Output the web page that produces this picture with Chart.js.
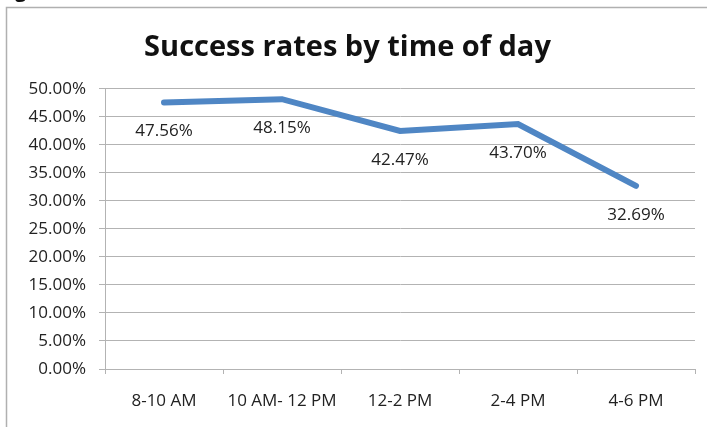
<!DOCTYPE html>
<html>
<head>
<meta charset="utf-8">
<script src="https://cdn.jsdelivr.net/npm/chart.js@4/dist/chart.umd.min.js"></script>
<style>
  html, body { margin: 0; padding: 0; background: #ffffff; }
  #wrap { width: 707px; height: 427px; position: relative; }
</style>
</head>
<body>
<div id="wrap"><canvas id="c" width="707" height="427"></canvas></div>
<script>
const chartTitle = 'Success rates by time of day';
const categories = ['8-10 AM', '10 AM- 12 PM', '12-2 PM', '2-4 PM', '4-6 PM'];
const successRates = [0.4756, 0.4815, 0.4247, 0.4370, 0.3269];
const yTickValues = [0, 0.05, 0.10, 0.15, 0.20, 0.25, 0.30, 0.35, 0.40, 0.45, 0.50];

const FONT = "'Open Sans', 'Liberation Sans', sans-serif";
const GRID = '#b3b3b3';
const LINE = '#4f86c4';

const fmtPct = v => (v * 100).toFixed(2) + '%';

const frameAndLabels = {
  id: 'frameAndLabels',
  beforeDraw(chart) {
    const ctx = chart.ctx;
    ctx.save();
    // outer frame (partially visible)
    ctx.strokeStyle = '#b0b0b0';
    ctx.lineWidth = 1.5;
    ctx.beginPath();
    ctx.moveTo(6.5, 427);
    ctx.lineTo(6.5, 7.5);
    ctx.lineTo(707, 7.5);
    ctx.stroke();
    // cut-off glyph above frame
    ctx.fillStyle = '#111';
    ctx.font = "bold 20px " + FONT;
    ctx.textBaseline = 'alphabetic';
    ctx.textAlign = 'left';
    ctx.fillText('g', 15, -3);
    ctx.restore();
  },
  afterDatasetsDraw(chart) {
    const ctx = chart.ctx;
    const meta = chart.getDatasetMeta(0);
    ctx.save();
    ctx.fillStyle = '#222';
    ctx.font = "17px " + FONT;
    ctx.textAlign = 'center';
    ctx.textBaseline = 'middle';
    meta.data.forEach((pt, i) => {
      ctx.fillText(fmtPct(chart.data.datasets[0].data[i]), pt.x, pt.y + 29);
    });
    ctx.restore();
  }
};

new Chart(document.getElementById('c'), {
  type: 'line',
  data: {
    labels: categories,
    datasets: [{
      data: successRates,
      borderColor: LINE,
      borderWidth: 6,
      borderCapStyle: 'round',
      borderJoinStyle: 'miter',
      tension: 0,
      pointRadius: 0,
      pointHoverRadius: 0,
      fill: false
    }]
  },
  options: {
    responsive: false,
    devicePixelRatio: 1,
    animation: false,
    events: [],
    layout: { padding: { left: 0, right: 12, top: 0, bottom: 0 } },
    plugins: {
      legend: { display: false },
      tooltip: { enabled: false },
      title: {
        display: true,
        text: chartTitle,
        color: '#111',
        font: { family: FONT, size: 29, weight: 'bold', lineHeight: 1.2 },
        padding: { top: 30, bottom: 24 }
      }
    },
    scales: {
      x: {
        type: 'category',
        offset: true,
        grid: {
          offset: true,
          drawOnChartArea: false,
          drawTicks: true,
          tickLength: 5,
          color: GRID
        },
        border: { display: true, color: GRID, width: 1 },
        ticks: {
          color: '#222',
          font: { family: FONT, size: 17 },
          padding: 17,
          maxRotation: 0,
          autoSkip: false
        },
        afterFit(scale) { scale.height = 58; }
      },
      y: {
        min: 0,
        max: 0.5,
        afterBuildTicks(scale) { scale.ticks = yTickValues.map(v => ({ value: v })); },
        grid: {
          color: GRID,
          drawTicks: true,
          tickLength: 6
        },
        border: { display: true, color: GRID, width: 1 },
        ticks: {
          color: '#222',
          font: { family: FONT, size: 17 },
          padding: 13,
          callback: v => fmtPct(v)
        },
        afterFit(scale) { scale.width = 105; }
      }
    }
  },
  plugins: [frameAndLabels]
});
</script>
</body>
</html>
